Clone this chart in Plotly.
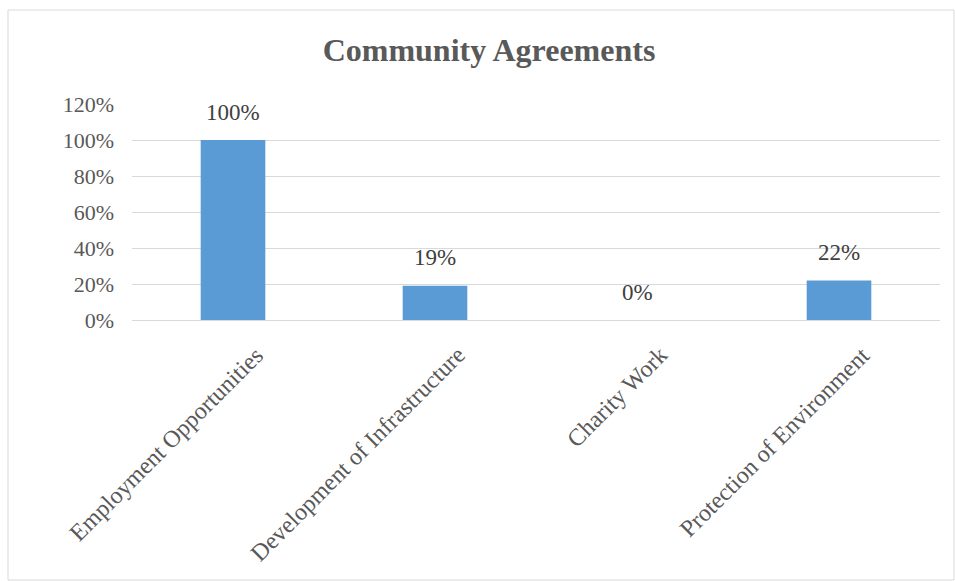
import plotly.graph_objects as go

# Community agreement categories and share of respondents
categories = [
    "Employment Opportunities",
    "Development of Infrastructure",
    "Charity Work",
    "Protection of Environment",
]
shares = [1.00, 0.19, 0.00, 0.22]
y_ticks = [0, 0.2, 0.4, 0.6, 0.8, 1.0, 1.2]
y_tick_text = ["0%", "20%", "40%", "60%", "80%", "100%", "120%"]

W, H = 955, 581
L, R, T, B = 132, 15, 104, 261
SERIF = "Liberation Serif"

fig = go.Figure(
    go.Bar(
        x=categories,
        y=shares,
        marker=dict(color="#5B9BD5", line=dict(width=0)),
        width=0.32,
        hoverinfo="x+y",
    )
)

# value labels sit a little above each bar top
for cat, v in zip(categories, shares):
    fig.add_annotation(
        x=cat,
        y=v,
        text=f"{v:.0%}",
        showarrow=False,
        yanchor="middle",
        yshift=28,
        font=dict(family=SERIF, size=23, color="#404040"),
    )

# slanted category names hang from the right of each tick
for cat in categories:
    fig.add_annotation(
        x=cat,
        y=0,
        text=cat,
        textangle=-45,
        showarrow=False,
        xanchor="right",
        yanchor="top",
        xshift=38,
        yshift=-19,
        font=dict(family=SERIF, size=24, color="#595959"),
    )

pw, ph = W - L - R, H - T - B

fig.update_layout(
    width=W,
    height=H,
    margin=dict(l=L, r=R, t=T, b=B),
    paper_bgcolor="white",
    plot_bgcolor="white",
    showlegend=False,
    title=dict(
        text="<b>Community Agreements</b>",
        x=489 / W,
        xanchor="center",
        xref="container",
        y=1 - 50 / H,
        yanchor="middle",
        font=dict(family=SERIF, size=32, color="#595959"),
    ),
    font=dict(family=SERIF, color="#595959"),
    shapes=[
        dict(
            type="rect",
            xref="paper",
            yref="paper",
            x0=(8 - L) / pw,
            x1=(954 - L) / pw,
            y0=-(H - 1 - (H - B)) / ph,
            y1=1 + (T - 10) / ph,
            line=dict(color="#D9D9D9", width=1),
            layer="below",
        )
    ],
)

fig.update_xaxes(
    range=[-0.5, len(categories) - 0.5],
    autorange=False,
    showticklabels=False,
    showline=True,
    linecolor="#D9D9D9",
    linewidth=1,
    ticks="",
    showgrid=False,
)
fig.update_yaxes(
    range=[0, 1.2],
    tickvals=y_ticks,
    ticktext=y_tick_text,
    tickfont=dict(family=SERIF, size=22, color="#595959"),
    showgrid=True,
    gridcolor="#D9D9D9",
    gridwidth=1,
    zeroline=False,
    showline=False,
    ticks="",
    ticklabelstandoff=17,
)

fig.write_html("out.html")
